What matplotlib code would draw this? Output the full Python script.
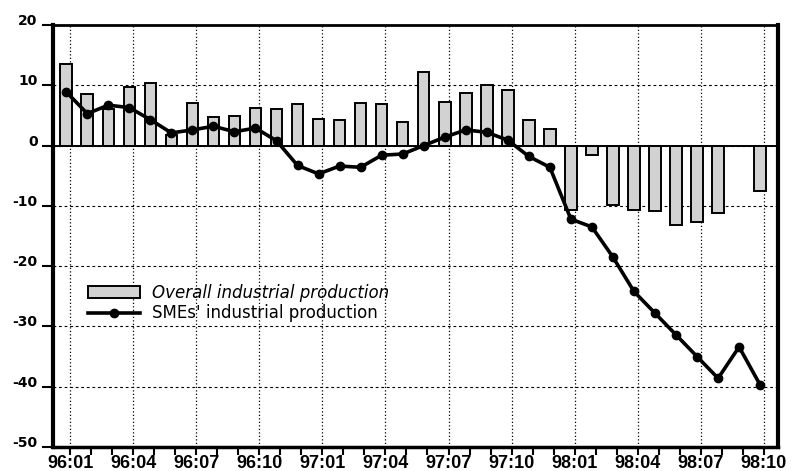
import matplotlib.pyplot as plt
import numpy as np

# monthly, 96:01 .. 98:10
years = [96] * 12 + [97] * 12 + [98] * 10
months = list(range(1, 13)) * 2 + list(range(1, 11))
labels = [f"{y}:{m:02d}" for y, m in zip(years, months)]

overall = [13.6, 8.5, 6.0, 9.7, 10.3, 1.8, 7.1, 4.8, 4.9, 6.3, 6.0, 6.9,
           4.4, 4.2, 7.1, 6.9, 3.9, 12.2, 7.2, 8.8, 10.1, 9.2, 4.2, 2.7,
           -10.7, -1.5, -9.8, -10.7, -10.8, -13.1, -12.6, -11.2, np.nan, -7.6]
smes = [8.9, 5.3, 6.7, 6.3, 4.3, 2.1, 2.6, 3.2, 2.3, 2.9, 0.8, -3.3,
        -4.7, -3.4, -3.6, -1.6, -1.4, 0.0, 1.4, 2.6, 2.2, 0.9, -1.8, -3.6,
        -12.2, -13.5, -18.5, -24.2, -27.8, -31.4, -35.0, -38.6, -33.4, -39.7]

yticks = [20, 10, 0, -10, -20, -30, -40, -50]


def main() -> None:
    plt.rcParams['font.family'] = ['Liberation Sans', 'DejaVu Sans']
    fig = plt.figure(figsize=(7.95, 4.71), dpi=100)
    ax = fig.add_axes([53 / 795, 1 - 447 / 471, (778 - 53) / 795, (447 - 25) / 471])

    x = np.arange(len(labels))
    # the month ticks in the scan sit a little right of the data points
    shift = 0.18
    bars = ax.bar(x, overall, width=0.55, color='#d2d2d2', edgecolor='black',
                  linewidth=1.4, label='Overall industrial production', zorder=2)
    line, = ax.plot(x, smes, color='black', lw=2.6, marker='o', ms=6,
                    label="SMEs' industrial production", zorder=3)
    ax.axhline(0, color='black', lw=1.4, zorder=2.5)

    ax.set_xlim(-0.63, 33.85)
    ax.set_ylim(-50, 20)

    ax.set_xticks(x + shift)
    ax.set_xticklabels([l if i % 3 == 0 else '' for i, l in enumerate(labels)],
                       fontsize=13, fontweight='bold')
    ax.tick_params(axis='x', length=5.5, width=1.5, pad=0)
    ax.set_yticks(yticks)
    ax.set_yticklabels([str(v) for v in yticks], fontsize=10, fontweight='bold',
                       family='DejaVu Sans')
    ax.tick_params(axis='y', length=8, width=1.5, pad=3)
    for t in ax.get_yticklabels():
        t.set_va('baseline')

    for v in yticks[1:-1]:
        ax.axhline(v, color='black', lw=0.8, ls=(0, (2.5, 2.5)), zorder=1)
    for i in x[::3]:
        ax.axvline(i + shift, color='black', lw=0.9, ls=(0, (1, 1.8)), zorder=1)

    for side, w in [('left', 3), ('bottom', 2.5), ('right', 3), ('top', 2)]:
        ax.spines[side].set_linewidth(w)

    leg = ax.legend([bars, line], [bars.get_label(), line.get_label()],
                    loc='upper left', bbox_to_anchor=(0.035, 0.41), frameon=False,
                    prop={'family': 'DejaVu Sans', 'size': 12},
                    handlelength=3.1, handleheight=0.7,
                    borderpad=0.1, labelspacing=0.15, handletextpad=0.7)
    leg.get_texts()[0].set_style('italic')

    fig.savefig("out.png", dpi=100)


if __name__ == "__main__":
    main()
